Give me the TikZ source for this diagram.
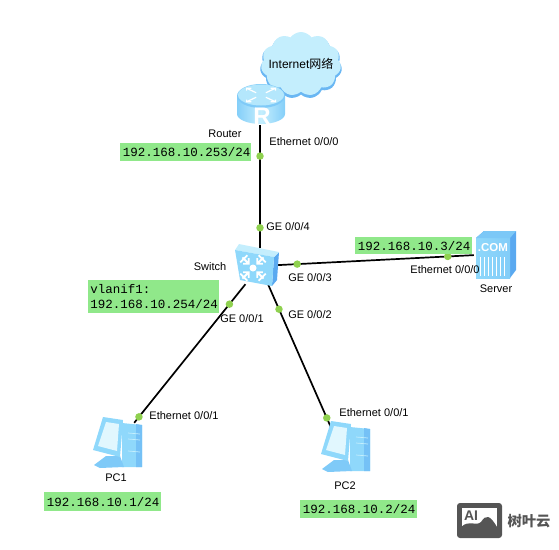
\documentclass[tikz,border=0pt]{standalone}
\usepackage{fontspec}
\setmainfont{Liberation Sans}
\newfontfamily\labelfont{Liberation Mono}
\newfontfamily\cjkfont{Noto Sans CJK SC}
\usepackage{tikz}
\usepackage{xcolor}
\usetikzlibrary{positioning,shapes.symbols,shapes.geometric,calc}
\definecolor{cA}{HTML}{8fd8fb}
\definecolor{cB}{HTML}{c4eefd}
\definecolor{cC}{HTML}{5aa9f0}
\definecolor{cD}{HTML}{90e88a}
\definecolor{cE}{HTML}{8fd14f}
\definecolor{cF}{HTML}{555555}
\tikzset{
  device/.style={inner sep=0pt,minimum width=#1,minimum height=#1},
  port/.style={circle,fill=cE,inner sep=0pt,minimum size=7.5pt},
  addr/.style={fill=cD,inner sep=0pt,font=\labelfont\fontsize{12.5}{15}\selectfont,align=left,anchor=north west},
  tag/.style={inner sep=0pt,font=\fontsize{11}{13}\selectfont},
  link/.style={line width=1.7pt,black},
  routericon/.pic={
    \shade[left color=cA!80!cC,right color=cA!80!cC,middle color=cB] (-24,-9) -- (-24,9) arc[start angle=180,end angle=0,x radius=24,y radius=10] -- (24,-9) -- cycle;
    \fill[cA!70!cC] (0,-9) ellipse[x radius=24,y radius=12];
    \fill[cB!70!cA] (0,-10) ellipse[x radius=23,y radius=10.5];
    \foreach \a in {0,90,180,270}
      \draw[white,line width=1.2pt,shift={(0,-10)},xscale=1.6,yscale=.75,rotate=\a] (3,3) -- (9,9) (6,9) -- (9,9) -- (9,6);
    \node[text=white,font=\bfseries\fontsize{24}{24}\selectfont,inner sep=0pt] (routerR) at (1,11) {R};
  },
  switchicon/.pic={
    \fill[cC] (22,-12) -- (17,-7) -- (15,22) -- (20,16) -- cycle;
    \fill[cB] (-18,-20) -- (22,-12) -- (17,-7) -- (-22,-14) -- cycle;
    \fill[cA] (-22,-14) -- (17,-7) -- (15,22) -- (-17,16) -- cycle;
    \foreach \a in {45,135,225,315}
      \draw[white,line width=1.8pt,shift={(-4,4)},rotate=\a] (6,0) -- (15,0) (10,-4) -- (6,0) -- (10,4) (13,-5) -- (13,5);
    \fill[white] (-4,4) circle[radius=3.5];
  },
  servericon/.pic={
    \fill[cC] (-20,-24) -- (-12,-31) -- (20,-31) -- (20,8) -- (14,16) -- cycle;
    \shade[left color=cA,right color=cA!75!cC] (-20,-24) rectangle (14,16);
    \fill[cA!65!cC] (-20,-24) -- (-12,-31) -- (20,-31) -- (14,-24) -- cycle;
    \node[text=white,font=\bfseries\fontsize{11.5}{11.5}\selectfont,inner sep=0pt] (serverCom) at (-3,-14) {.COM};
    \foreach \x in {-16,-12,...,10}
      \draw[white,line width=.6pt] (\x,-5) -- (\x,14);
  },
  pcicon/.pic={
    \fill[cA] (6,-20) -- (26,-18) -- (26,24) -- (6,24) -- cycle;
    \fill[cC!50!cA] (20,-19) -- (26,-18) -- (26,24) -- (20,24) -- cycle;
    \draw[cB,line width=.7pt] (12,-10) -- (24,-9) (12,-4) -- (24,-3) (12,8) -- (24,9);
    \fill[cA!70!cC] (-22,22) -- (-10,13) -- (4,13) -- (8,24) -- (-16,25) -- cycle;
    \fill[cA] (-13,-26) -- (7,-23) -- (4,14) -- (-23,7) -- cycle;
    \fill[cB!50!white] (-10,-21) -- (3,-19) -- (1,8) -- (-18,3) -- cycle;
  },
}
\begin{document}
\begin{tikzpicture}[x=1pt,y=-1pt]
  \useasboundingbox (0,0) rectangle (559,549);
  % network devices
  \node[device=40pt] (router) at (260,105) {};
  \node[device=36pt] (switch) at (260,266) {};
  \node[device=44pt] (server) at (496,254) {};
  \node[device=40pt] (pc1) at (118,443) {};
  \node[device=40pt] (pc2) at (340,448) {};
  % cloud
  \node[cloud,cloud puffs=11,cloud puff arc=110,aspect=1.25,fill=cC!70!cA,minimum width=82pt,minimum height=66pt,inner sep=0pt] (cloudback) at (301,66) {};
  \node[cloud,cloud puffs=11,cloud puff arc=110,aspect=1.25,fill=cB,minimum width=80pt,minimum height=64pt,inner sep=0pt] (cloud) at (301,64) {};
  \node[tag,font=\fontsize{12}{14}\selectfont] (inet) at (301,64) {Internet{\cjkfont 网络}};
  % links
  \draw[link] (router) -- (switch) node[port,pos=.252] (p1) {} node[port,pos=.837] (p2) {};
  \draw[link] (switch) -- (server) node[port,pos=.097] (p3) {} node[port,pos=.867] (p4) {};
  \draw[link] (switch) -- (pc1) node[port,pos=.144] (p5) {} node[port,pos=.957] (p6) {};
  \draw[link] (switch) -- (pc2) node[port,pos=.174] (p7) {} node[port,pos=.931] (p8) {};
  % icons
  \pic at (261,105) {routericon};
  \pic at (257,264) {switchicon};
  \pic at (496,262) {servericon};
  \pic at (116,443) {pcicon};
  \pic at (344,447) {pcicon};
  % device names
  \node[tag] (nrouter) at (225,134) {Router};
  \node[tag] (nswitch) at (210,267) {Switch};
  \node[tag] (nserver) at (496,289) {Server};
  \node[tag] (npc1) at (116,478) {PC1};
  \node[tag] (npc2) at (345,486) {PC2};
  % port names
  \node[tag] (e1) at (304,142) {Ethernet 0/0/0};
  \node[tag] (g4) at (288,227) {GE 0/0/4};
  \node[tag] (g3) at (310,278) {GE 0/0/3};
  \node[tag] (e4) at (445,270) {Ethernet 0/0/0};
  \node[tag] (g1) at (242,319) {GE 0/0/1};
  \node[tag] (g2) at (310,315) {GE 0/0/2};
  \node[tag] (e6) at (184,416) {Ethernet 0/0/1};
  \node[tag] (e8) at (374,413) {Ethernet 0/0/1};
  % addresses
  \node[addr,minimum width=131pt,minimum height=18pt] (a1) at (120,143) {\hspace*{2pt}192.168.10.253/24};
  \node[addr,minimum width=131pt,minimum height=33pt] (a2) at (88,280) {\hspace*{1pt}vlanif1:\\\hspace*{1pt}192.168.10.254/24};
  \node[addr,minimum width=117pt,minimum height=17pt] (a3) at (355,237) {\hspace*{1pt}192.168.10.3/24};
  \node[addr,minimum width=117pt,minimum height=19pt] (a4) at (44,492) {\hspace*{1pt}192.168.10.1/24};
  \node[addr,minimum width=117pt,minimum height=18pt] (a5) at (300,500) {\hspace*{1pt}192.168.10.2/24};
  % logo
  \fill[cF,rounded corners=3pt] (457,503) rectangle (502,538);
  \fill[white] (462,508) rectangle (497,527);
  \fill[cF] (461,533) -- (461,527) .. controls (470,519) and (475,527) .. (481,522) .. controls (486,514) and (490,515) .. (497,527) -- (497,533) -- cycle;
  \node[inner sep=0pt,text=cF,font=\bfseries\fontsize{14}{14}\selectfont] (logoAI) at (471,516) {AI};
  \node[inner sep=0pt,text=cF,font=\cjkfont\bfseries\fontsize{14.3}{14.3}\selectfont] (logoname) at (529,521) {树叶云};
\end{tikzpicture}
\end{document}
